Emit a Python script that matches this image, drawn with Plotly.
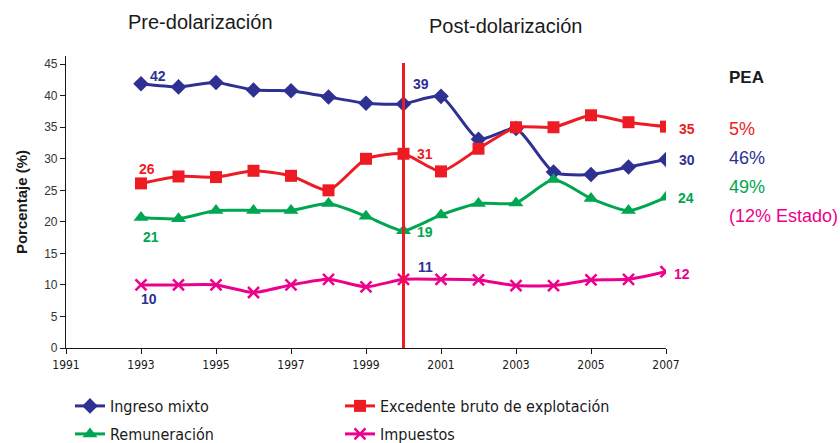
import plotly.graph_objects as go

years = list(range(1993, 2008))
ingreso_mixto = [41.9, 41.4, 42.1, 40.9, 40.8, 39.8, 38.8, 38.7, 39.9, 33.1, 34.8, 27.9, 27.5, 28.7, 29.9]
excedente = [26.1, 27.2, 27.1, 28.1, 27.3, 25.0, 30.0, 30.8, 28.0, 31.6, 35.0, 35.0, 36.9, 35.8, 35.1]
remuneracion = [20.7, 20.5, 21.8, 21.8, 21.8, 22.9, 20.9, 18.6, 21.1, 22.9, 23.0, 26.7, 23.7, 21.8, 23.9]
impuestos = [10.0, 10.0, 10.0, 8.8, 10.0, 10.9, 9.7, 10.9, 10.9, 10.8, 9.9, 9.9, 10.8, 10.9, 12.1]

tick_years = list(range(1991, 2008, 2))
dollarization_year = 2000

BLUE = "#2E3192"
RED = "#ED1C24"
GREEN = "#00A651"
MAGENTA = "#EC008C"
NARROW = "DejaVu Sans Condensed, Liberation Sans Narrow, Arial Narrow, sans-serif"
SANS = "Liberation Sans, Arial, sans-serif"

# plot area in pixels
L, R, T, B = 66, 666, 56, 348
W, H = R - L, B - T


def px(x, y):
    return (x - L) / W, (B - y) / H


fig = go.Figure()
series = [
    ("Ingreso mixto", ingreso_mixto, BLUE, "diamond", 12, "legend"),
    ("Excedente bruto de explotación", excedente, RED, "square", 12, "legend"),
    ("Remuneración", remuneracion, GREEN, "triangle-up", 13, "legend2"),
    ("Impuestos", impuestos, MAGENTA, "x-thin", 11, "legend2"),
]
for name, vals, col, sym, size, leg in series:
    fig.add_trace(go.Scatter(
        x=years, y=vals, name=name, mode="lines+markers", legend=leg,
        line=dict(color=col, width=3, shape="spline", smoothing=0.6),
        marker=dict(symbol=sym, size=size, color=col,
                    line=dict(color=col, width=2.5 if sym == "x-thin" else 0)),
    ))

fig.add_shape(type="line", x0=dollarization_year, x1=dollarization_year, y0=-0.6, y1=45.2,
              xref="x", yref="y", line=dict(color=RED, width=3), layer="above")

# value labels: (year index, series, text colour, xshift, yshift, xanchor)
labels = [
    (0, ingreso_mixto, BLUE, 7, 8, "left"),
    (7, ingreso_mixto, BLUE, 7, 20, "left"),
    (0, excedente, RED, 6, 14, "center"),
    (7, excedente, RED, 11, 0, "left"),
    (0, remuneracion, GREEN, 10, -20, "center"),
    (7, remuneracion, GREEN, 11, -1, "left"),
    (0, impuestos, BLUE, 8, -14, "center"),
    (7, impuestos, BLUE, 12, 12, "left"),
    (14, excedente, RED, 11, -2, "left"),
    (14, ingreso_mixto, BLUE, 11, -1, "left"),
    (14, remuneracion, GREEN, 10, -1, "left"),
    (14, impuestos, MAGENTA, 6, -2, "left"),
]
for i, vals, col, xs, ys, xa in labels:
    fig.add_annotation(x=years[i], y=vals[i], xref="x", yref="y",
                       text=f"<b>{round(vals[i])}</b>", showarrow=False,
                       xshift=xs, yshift=ys, xanchor=xa,
                       font=dict(family=SANS, size=14, color=col))

side = [
    ("<b>PEA</b>", "#1a1a1a", 78, 17),
    ("5%", RED, 129, 18),
    ("46%", BLUE, 158, 18),
    ("49%", GREEN, 187, 18),
    ("(12% Estado)", MAGENTA, 216, 18),
]
for txt, col, ypx, fs in side:
    ax, ay = px(727, ypx)
    fig.add_annotation(x=ax, y=ay, xref="paper", yref="paper", text=txt,
                       showarrow=False, xanchor="left", yanchor="middle",
                       font=dict(family=SANS, size=fs, color=col))

for txt, cx, cy in [("Pre-dolarización", 200, 22), ("Post-dolarización", 506, 26)]:
    ax, ay = px(cx, cy)
    fig.add_annotation(x=ax, y=ay, xref="paper", yref="paper", text=txt,
                       showarrow=False, xanchor="center", yanchor="middle",
                       font=dict(family=SANS, size=20, color="#1a1a1a"))

leg_common = dict(orientation="h", xanchor="left", yanchor="middle",
                  entrywidth=225, entrywidthmode="pixels", itemwidth=30,
                  bgcolor="rgba(0,0,0,0)",
                  font=dict(family=NARROW, size=16, color="#1a1a1a"))
lx, ly1 = px(70, 406)
_, ly2 = px(70, 434)

fig.update_layout(
    width=840, height=443,
    margin=dict(l=L, r=840 - R, t=T, b=443 - B, autoexpand=False),
    paper_bgcolor="white", plot_bgcolor="white",
    showlegend=True,
    legend=dict(x=lx, y=ly1, **leg_common),
    legend2=dict(x=lx, y=ly2, **leg_common),
    xaxis=dict(range=[1991, 2007], tickvals=tick_years, ticktext=[str(y) for y in tick_years],
               showgrid=False, zeroline=False, showline=True, linecolor="#1a1a1a", linewidth=1.2,
               ticks="outside", ticklen=5, tickcolor="#1a1a1a",
               tickfont=dict(family=NARROW, size=12, color="#1a1a1a")),
    yaxis=dict(range=[0, 46.3], tickvals=list(range(0, 46, 5)),
               showgrid=False, zeroline=False, showline=True, linecolor="#1a1a1a", linewidth=1.2,
               ticks="outside", ticklen=5, tickcolor="#1a1a1a",
               tickfont=dict(family=SANS, size=12, color="#333333"),
               title=dict(text="<b>Porcentaje (%)</b>", standoff=12,
                          font=dict(family=SANS, size=15, color="#1a1a1a"))),
)

fig.write_html("out.html", config={"displayModeBar": False},
               post_script="document.body.style.margin='0';")
